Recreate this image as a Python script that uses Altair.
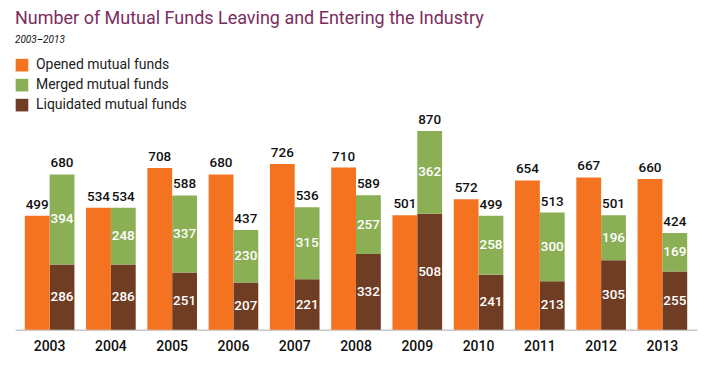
import altair as alt
import pandas as pd

years = ["2003", "2004", "2005", "2006", "2007", "2008", "2009", "2010", "2011", "2012", "2013"]
opened = [499, 534, 708, 680, 726, 710, 501, 572, 654, 667, 660]
merged = [394, 248, 337, 230, 315, 257, 362, 258, 300, 196, 169]
liquidated = [286, 286, 251, 207, 221, 332, 508, 241, 213, 305, 255]

series_names = ["Opened mutual funds", "Merged mutual funds", "Liquidated mutual funds"]
colors = ["#F47321", "#8AAF55", "#6E3D23"]

rows = []
tot = []
for i, y in enumerate(years):
    rows.append(dict(year=y, col="A", series=series_names[0], y0=0, y1=opened[i], val=opened[i], k=0))
    rows.append(dict(year=y, col="B", series=series_names[2], y0=0, y1=liquidated[i], val=liquidated[i], k=2))
    rows.append(dict(year=y, col="B", series=series_names[1], y0=liquidated[i],
                     y1=liquidated[i] + merged[i], val=merged[i], k=1))
    tot.append(dict(year=y, col="A", total=opened[i]))
    tot.append(dict(year=y, col="B", total=liquidated[i] + merged[i]))
df = pd.DataFrame(rows)
df["mid"] = (df["y0"] + df["y1"]) / 2
tdf = pd.DataFrame(tot)

NUMFONT = "Roboto"

xenc = alt.X("year:N", sort=years, title=None,
             scale=alt.Scale(paddingInner=0.19, paddingOuter=0.16),
             axis=alt.Axis(labelAngle=0, ticks=False, domainColor="#c8c8c8", domainWidth=1.5,
                           labelFontSize=14, labelColor="#111", labelPadding=10,
                           labelFont=NUMFONT, labelFontWeight=500))
xoff = alt.XOffset("col:N", sort=["A", "B"], scale=alt.Scale(paddingInner=0, paddingOuter=0))
yscale = alt.Scale(domain=[0, 870], nice=False, zero=True)

bars = alt.Chart(df).mark_bar(strokeWidth=0).encode(
    x=xenc, xOffset=xoff,
    y=alt.Y("y1:Q", scale=yscale, axis=None),
    y2="y0:Q",
    color=alt.Color("series:N", scale=alt.Scale(domain=series_names, range=colors),
                    legend=alt.Legend(title=None, orient="none", legendX=0, legendY=-73,
                                      symbolType="square", symbolSize=160, symbolStrokeWidth=0,
                                      symbolOpacity=1, labelFontSize=14, labelColor="#222",
                                      labelFont="Roboto", labelLimit=0, rowPadding=6, labelOffset=7)),
    order=alt.Order("k:Q", sort="descending"),
)

inner = alt.Chart(df[df["col"] == "B"]).mark_text(
    color="white", fontSize=13.5, font=NUMFONT, fontWeight=500, baseline="middle").encode(
    x=xenc, xOffset=xoff,
    y=alt.Y("mid:Q", scale=yscale, axis=None),
    text="val:Q",
)

totals = alt.Chart(tdf).mark_text(
    color="#111", fontSize=13.5, font=NUMFONT, fontWeight=500, baseline="alphabetic", dy=-7).encode(
    x=xenc, xOffset=xoff,
    y=alt.Y("total:Q", scale=yscale, axis=None),
    text="total:Q",
)

chart = alt.layer(bars, inner, totals).properties(
    width=683, height=199,
    padding={"left": 7, "top": 123, "right": 10, "bottom": 30},
    autosize=alt.AutoSizeParams(type="none"),
    title=alt.Title("Number of Mutual Funds Leaving and Entering the Industry",
                    subtitle="2003–2013", anchor="start", frame="group", offset=13,
                    font="Roboto", fontSize=18, fontWeight="normal", color="#7B2D5E",
                    subtitleFont="Roboto", subtitleFontSize=10, subtitleFontStyle="italic",
                    subtitleColor="#111", subtitlePadding=7),
).configure_view(stroke=None)

chart.save("out.html", embed_options={"renderer": "svg", "actions": False})
